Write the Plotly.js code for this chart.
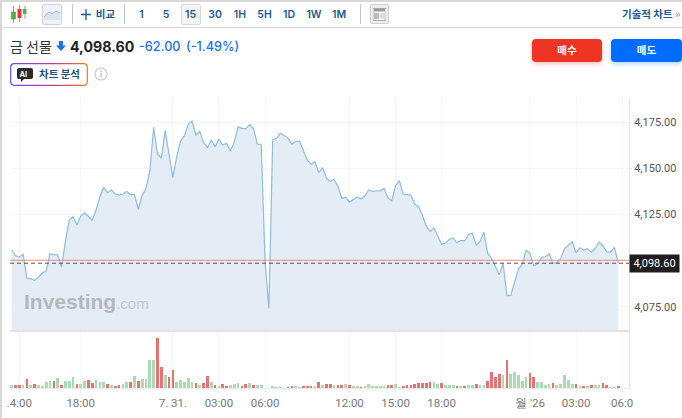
<!DOCTYPE html>
<html><head><meta charset="utf-8">
<script src="https://cdn.plot.ly/plotly-3.0.1.min.js"></script>
<style>
html,body{margin:0;padding:0;background:#fff;width:682px;height:418px;overflow:hidden;font-family:Inter,"Noto Sans CJK KR",sans-serif}
#chart{position:absolute;left:0;top:0;width:682px;height:418px}
.o{position:absolute;white-space:nowrap;line-height:1;pointer-events:none}
.t{color:#1d5a92;font:600 10.5px Inter,"Noto Sans CJK KR",sans-serif;top:7.5px;transform:translateX(-50%)}
.sep{position:absolute;top:4px;height:20px;width:1px;background:#c4c4c4}
</style></head><body>
<div id="chart"></div>

<div class="o" style="left:0;top:0;width:682px;height:1.5px;background:#d8d8d8"></div>
<div class="o" style="left:0;top:27px;width:682px;height:1px;background:#d8d8d8"></div>
<div class="o" style="left:0;top:0;width:1.5px;height:418px;background:#d8d8d8"></div>

<svg class="o" style="left:10px;top:4px" width="18" height="20" viewBox="0 0 18 20">
 <path d="M3.500 2V19M9.500 1V18M15 2V15" stroke="#999" stroke-width="1"/>
 <rect x="1.500" y="8" width="4" height="7" fill="#4caf50" stroke="#3a8f3e" stroke-width=".5"/>
 <rect x="7.500" y="5" width="4" height="9" fill="#e53935"/>
 <rect x="13" y="5" width="3.500" height="5" fill="#4caf50"/>
</svg>
<div class="o" style="left:42px;top:4px;width:18px;height:19px;background:#eef2f7;border:1px solid #d3d3d3;border-radius:2px"></div>
<svg class="o" style="left:43px;top:8px" width="18" height="12" viewBox="0 0 18 12"><path d="M1 9L6 4L9 6L13 3L17 5V12H1Z" fill="#dbe5f1"/><path d="M1 9L6 4L9 6L13 3L17 5" fill="none" stroke="#9fb9d6" stroke-width="1"/></svg>
<div class="sep" style="left:72px"></div>
<svg class="o" style="left:81px;top:9px" width="10" height="11"><path d="M5 0V11M0 5.500H10" stroke="#1d5a92" stroke-width="1.300"/></svg>
<div class="o t" style="left:105.500px;top:6px">비교</div>
<div class="sep" style="left:124px"></div>
<div class="o" style="left:181px;top:4px;width:18px;height:19px;background:#f5f5f5;border:1px solid #d8d8d8;border-radius:2px"></div>
<div class="o t" style="left:141.500px">1</div>
<div class="o t" style="left:166px">5</div>
<div class="o t" style="left:190.500px">15</div>
<div class="o t" style="left:215px">30</div>
<div class="o t" style="left:240px">1H</div>
<div class="o t" style="left:264.500px">5H</div>
<div class="o t" style="left:289px">1D</div>
<div class="o t" style="left:314px">1W</div>
<div class="o t" style="left:339px">1M</div>
<div class="sep" style="left:360px"></div>
<div class="o" style="left:370px;top:4px;width:17px;height:18px;background:#eee;border:1px solid #d0d0d0;border-radius:2px"></div>
<svg class="o" style="left:373px;top:8px" width="13" height="13"><path d="M0 .5H13V12.500H0Z" fill="#fff" stroke="#aaa"/><rect x="1" y="1" width="11" height="2.500" fill="#999"/><rect x="1" y="5" width="5" height="6" fill="#bbb"/><path d="M7 6H12M7 8H12M7 10H12" stroke="#bbb"/></svg>
<div class="o" style="left:622px;top:5.500px;color:#1d5a92;font:600 10.500px 'Noto Sans CJK KR',sans-serif">기술적 차트 <span style="color:#9ab">»</span></div>

<div class="o" style="left:10px;top:35.500px;color:#333;font:400 14px 'Noto Sans CJK KR',sans-serif">금 선물</div>
<svg class="o" style="left:56px;top:41px" width="10" height="10"><path d="M3 0H7V4.500H10L5 10L0 4.500H3Z" fill="#1a73e8"/></svg>
<div class="o" style="left:70px;top:38px;color:#222;font:700 14.200px Inter,sans-serif">4,098.60</div>
<div class="o" style="left:139px;top:39px;color:#1a73e8;font:500 12.700px Inter,sans-serif">-62.00</div>
<div class="o" style="left:186px;top:39px;color:#1a73e8;font:500 12.700px Inter,sans-serif">(-1.49%)</div>

<svg class="o" style="left:10px;top:63px" width="78" height="23"><defs><linearGradient id="ai" x1="0" x2="1"><stop offset="0" stop-color="#6a4df4"/><stop offset=".55" stop-color="#c2389a"/><stop offset="1" stop-color="#f27a1a"/></linearGradient></defs><rect x=".7" y=".7" width="76.600" height="21.600" rx="3.500" fill="#fff" stroke="url(#ai)" stroke-width="1.200"/><path d="M9 5H21Q23 5 23 7V14Q23 16 21 16H14L11 19V16H9Q7 16 7 14V7Q7 5 9 5Z" fill="#2a2a2a"/></svg>
<div class="o" style="left:19.500px;top:69.500px;color:#fff;font:700 7.500px Inter,sans-serif">AI</div>
<div class="o" style="left:39px;top:66px;color:#24507a;font:600 10.500px 'Noto Sans CJK KR',sans-serif">차트 분석</div>
<svg class="o" style="left:94px;top:67px" width="14" height="14"><circle cx="7" cy="7" r="6" fill="none" stroke="#ccc" stroke-width="1.200"/><path d="M7 6V10.500M7 3.500V5" stroke="#bbb" stroke-width="1.200"/></svg>

<div class="o" style="left:532px;top:39px;width:70px;height:23px;background:#ee3524;border-radius:4px;box-shadow:0 2px 5px rgba(238,53,36,.3);color:#fff;font:700 10.500px/22px 'Noto Sans CJK KR',sans-serif;text-align:center">매수</div>
<div class="o" style="left:611px;top:39px;width:71px;height:23px;background:#006dff;border-radius:4px;box-shadow:0 2px 5px rgba(0,109,255,.3);color:#fff;font:700 10.500px/22px 'Noto Sans CJK KR',sans-serif;text-align:center">매도</div>

<script>
var closePrices = [
4105.8,4102.7,4102.0,4103.4,4090.4,4090.2,4089.3,4090.9,4093.3,4094.4,
4103.8,4103.2,4103.2,4096.5,4110.3,4121.9,4123.9,4119.4,4124.2,4125.9,
4124.1,4121.9,4127.5,4134.7,4139.8,4136.9,4138.4,4136.2,4135.6,4136.2,
4137.5,4135.8,4135.8,4127.9,4135.6,4139.1,4148.7,4172.4,4157.9,4155.6,
4170.6,4158.3,4145.1,4156.5,4165.0,4167.9,4174.0,4175.8,4168.2,4170.2,
4164.1,4161.3,4165.5,4161.9,4165.9,4162.8,4163.7,4159.4,4164.6,4172.6,
4171.8,4171.5,4173.8,4171.7,4163.2,4163.2,4100.3,4074.1,4165.5,4166.4,
4169.1,4167.9,4166.4,4163.3,4164.8,4164.8,4159.2,4154.7,4152.3,4153.7,
4147.8,4150.5,4144.7,4142.9,4144.2,4140.2,4133.8,4134.4,4131.8,4133.3,
4134.6,4133.5,4135.1,4138.4,4137.6,4137.8,4138.0,4139.1,4134.2,4132.4,
4140.7,4143.4,4136.2,4135.8,4135.5,4130.6,4129.3,4124.6,4118.8,4115.9,
4117.7,4113.4,4108.8,4109.4,4111.6,4112.3,4109.7,4111.0,4110.8,
4114.1,4115.0,4108.5,4110.3,4115.5,4103.9,4101.2,4096.9,4092.4,4098.5,
4081.0,4081.1,4087.7,4095.3,4098.0,4105.6,4103.9,4097.3,4098.2,4101.8,
4102.1,4103.6,4098.5,4098.9,4101.2,4106.5,4108.3,4110.3,4104.3,4107.0,
4105.8,4106.5,4104.5,4106.5,4110.1,4108.1,4104.7,4104.7,4107.2,4098.6];
var volumes = [
10,10,10,10,27,10,13,9,7,18,20,21,29,10,21,21,32,13,13,20,24,16,24,19,19,13,10,5,8,13,
19,19,35,22,27,27,83,83,150,62,38,32,54,18,24,19,30,19,16,10,16,35,19,10,5,
13,5,8,13,16,6,11,15,8,8,10,1,0,5,2,2,1,3,6,5,3,5,5,5,5,17,10,11,11,8,8,8,11,8,5,5,3,5,11,5,5,5,5,8,8,11,3,5,8,8,13,14,16,16,19,19,13,16,
10,8,8,5,5,5,10,8,13,8,10,21,48,32,41,40,85,43,48,38,21,32,45,32,19,19,8,13,16,8,13,40,24,13,13,6,6,5,8,8,8,16,8,2,3,5];
var volumeDirections = ("grrgr"+"grggg"+"grgrg"+"ggrgg"+"rrggg"+"rgrrg"+"grgrg"+"gggrr"+"grrgg"+"gggrg"+"rrgrg"+
 "rrggg"+"rrgrg"+"ggggg"+"ggrrg"+"grrrg"+"rgrrg"+"rrgrg"+"grggg"+"gggrr"+"ggrrr"+"rrrrr"+"ggr"+
 "gggrg"+"rggrg"+"grrrr"+"grggg"+"ggrrg"+"gggrg"+"ggggr"+"grgrg"+"grrgg"+"r").split("");
var barIndex = closePrices.map(function(_,i){return i;});
var tickPositions = [2,18,42,54,66,88,100,112,135,147,159];
var tickLabels = [".4:00","18:00","7. 31.","03:00","06:00","12:00","15:00","18:00","월 '26","03:00","06:0"];
var priceTicks = [4075,4125,4150,4175];
var priceTickLabels = ["4,075.00","4,125.00","4,150.00","4,175.00"];
var lastPrice = 4098.6, lastLabel = "4,098.60", referencePrice = 4100.2;

var gridC = "#f3f5f7";
var xBase = {range:[-0.42,160.8],tickmode:"array",tickvals:tickPositions,showgrid:true,gridcolor:gridC,gridwidth:1,zeroline:false,fixedrange:true};
var font = "Roboto, Arial, sans-serif";
var traces = [
 {type:"scatter",mode:"lines",x:barIndex,y:closePrices,fill:"tozeroy",fillcolor:"#e4edf5",line:{color:"#8fbcdf",width:1.2},xaxis:"x",yaxis:"y",hoverinfo:"none"},
 {type:"bar",x:barIndex,y:volumes,width:0.7,marker:{color:volumeDirections.map(function(d){return d==="r"?"#e57373":"#a9dcb4";}),line:{width:0}},xaxis:"x2",yaxis:"y2",hoverinfo:"none"}
];
var layout = {
 width:682,height:418,margin:{l:10,r:53,t:98,b:30,pad:0},paper_bgcolor:"rgba(0,0,0,0)",plot_bgcolor:"#fff",showlegend:false,bargap:0,
 xaxis:Object.assign({},xBase,{anchor:"y",ticktext:tickLabels,showticklabels:false,ticks:"",showline:true,linecolor:"#e2e2e2",linewidth:2}),
 xaxis2:Object.assign({},xBase,{anchor:"y2",ticktext:tickLabels,showticklabels:true,ticks:"outside",ticklen:4,tickcolor:"#e8ecf2",showline:true,linecolor:"#e8ecf2",linewidth:1,tickfont:{family:font,size:11.5,color:"#777"}}),
 yaxis:{domain:[0.2,1],range:[4062.35,4188.3],side:"right",tickmode:"array",tickvals:priceTicks,ticktext:priceTickLabels,ticks:"outside",ticklen:2,tickcolor:"#e6e6e6",showgrid:true,gridcolor:gridC,zeroline:false,showline:true,linecolor:"#e6e6e6",linewidth:1,tickfont:{family:font,size:11,color:"#555"},fixedrange:true},
 yaxis2:{domain:[0,0.193],range:[0,168],side:"right",showticklabels:false,ticks:"",showgrid:false,zeroline:false,showline:true,linecolor:"#e6e6e6",linewidth:1,fixedrange:true},
 shapes:[
  {type:"line",xref:"x domain",x0:0,x1:1,yref:"y",y0:referencePrice,y1:referencePrice,line:{color:"#f28b82",width:1}},
  {type:"line",xref:"x domain",x0:0,x1:1,yref:"y",y0:lastPrice,y1:lastPrice,line:{color:"#555",width:1,dash:"4px,3px"}}
 ],
 annotations:[
  {xref:"paper",x:1,xanchor:"left",yref:"y",y:lastPrice,yanchor:"middle",text:lastLabel,showarrow:false,bgcolor:"#1e1e1e",font:{family:font,size:11,color:"#fff"},borderpad:2,width:45,height:13},
  {xref:"paper",x:0,xanchor:"left",xshift:12,yref:"paper",y:0.298,yanchor:"middle",text:"<b>Investing</b><span style='font-size:15px;color:#c4c7ca'>.com</span>",showarrow:false,font:{family:"Liberation Sans, Arial, sans-serif",size:21,color:"#b5b8bb"}}
 ]
};
Plotly.newPlot("chart",traces,layout,{displayModeBar:false,staticPlot:true});
</script>
</body></html>
